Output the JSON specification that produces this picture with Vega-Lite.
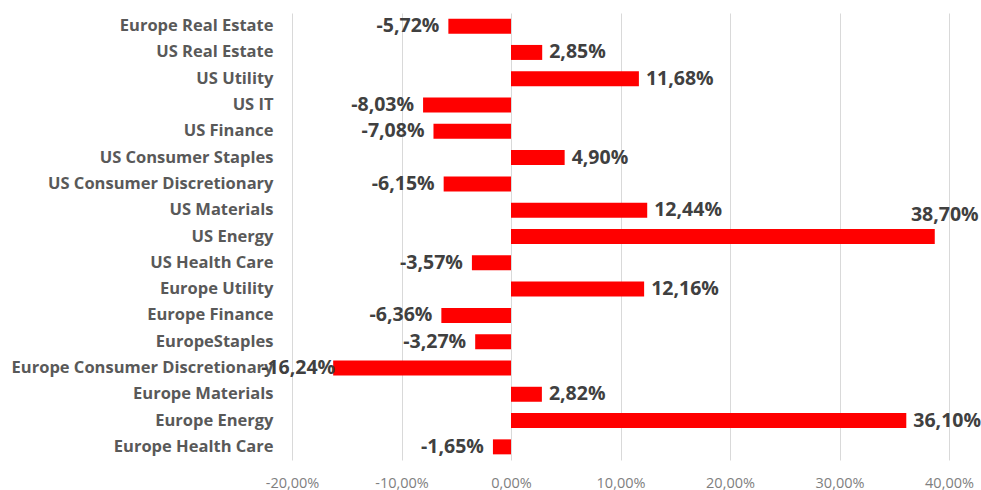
{
  "$schema": "https://vega.github.io/schema/vega-lite/v6.json",
  "width": 657,
  "height": 447,
  "autosize": {"type": "none"},
  "padding": {"left": 292, "top": 13, "right": 32, "bottom": 30},
  "background": "white",
  "config": {
    "locale": {"number": {"decimal": ",", "thousands": ".", "grouping": [3], "currency": ["", " €"], "minus": "-"}},
    "view": {"stroke": null},
    "font": "Open Sans"
  },
  "data": {"values": [
    {"sector": "Europe Real Estate", "value": -0.0572},
    {"sector": "US Real Estate", "value": 0.0285},
    {"sector": "US Utility", "value": 0.1168},
    {"sector": "US IT", "value": -0.0803},
    {"sector": "US Finance", "value": -0.0708},
    {"sector": "US Consumer Staples", "value": 0.049},
    {"sector": "US Consumer Discretionary", "value": -0.0615},
    {"sector": "US Materials", "value": 0.1244},
    {"sector": "US Energy", "value": 0.387},
    {"sector": "US Health Care", "value": -0.0357},
    {"sector": "Europe Utility", "value": 0.1216},
    {"sector": "Europe Finance", "value": -0.0636},
    {"sector": "EuropeStaples", "value": -0.0327},
    {"sector": "Europe Consumer Discretionary", "value": -0.1624},
    {"sector": "Europe Materials", "value": 0.0282},
    {"sector": "Europe Energy", "value": 0.361},
    {"sector": "Europe Health Care", "value": -0.0165}
  ]},
  "encoding": {
    "y": {
      "field": "sector", "type": "nominal", "sort": null,
      "scale": {"paddingInner": 0.43, "paddingOuter": 0.215},
      "axis": {"title": null, "ticks": false, "tickSize": 0, "domain": false, "labelPadding": 19, "labelLimit": 0,
               "labelFont": "Open Sans", "labelFontSize": 16.5, "labelFontWeight": "bold", "labelColor": "#595959"}
    }
  },
  "layer": [
    {
      "mark": {"type": "bar", "color": "#FF0000"},
      "encoding": {
        "x": {
          "field": "value", "type": "quantitative",
          "scale": {"domain": [-0.2, 0.4], "nice": false, "zero": false},
          "axis": {"title": null, "format": ".2%", "values": [-0.2, -0.1, 0, 0.1, 0.2, 0.3, 0.4],
                   "grid": true, "gridColor": "#d9d9d9", "gridWidth": 1, "domain": false, "ticks": false, "tickSize": 0,
                   "labelFlush": false, "labelPadding": 16, "labelFont": "Open Sans", "labelFontSize": 14.5, "labelColor": "#7f7f7f"}
        }
      }
    },
    {
      "transform": [{"filter": "datum.value > 0 && datum.value < 0.37"}],
      "mark": {"type": "text", "align": "left", "baseline": "middle", "dx": 7, "font": "Open Sans", "fontSize": 19.5, "fontWeight": "bold", "color": "#404040"},
      "encoding": {
        "x": {"field": "value", "type": "quantitative"},
        "text": {"field": "value", "type": "quantitative", "format": ".2%"}
      }
    },
    {
      "transform": [{"filter": "datum.value >= 0.37"}],
      "mark": {"type": "text", "align": "center", "baseline": "middle", "dx": 10, "dy": -22, "font": "Open Sans", "fontSize": 19.5, "fontWeight": "bold", "color": "#404040"},
      "encoding": {
        "x": {"field": "value", "type": "quantitative"},
        "text": {"field": "value", "type": "quantitative", "format": ".2%"}
      }
    },
    {
      "transform": [{"filter": "datum.value < 0 && datum.value > -0.15"}],
      "mark": {"type": "text", "align": "right", "baseline": "middle", "dx": -9, "font": "Open Sans", "fontSize": 19.5, "fontWeight": "bold", "color": "#404040"},
      "encoding": {
        "x": {"field": "value", "type": "quantitative"},
        "text": {"field": "value", "type": "quantitative", "format": ".2%"}
      }
    },
    {
      "transform": [{"filter": "datum.value <= -0.15"}],
      "mark": {"type": "text", "align": "right", "baseline": "middle", "dx": 2, "font": "Open Sans", "fontSize": 19.5, "fontWeight": "bold", "color": "#404040"},
      "encoding": {
        "x": {"field": "value", "type": "quantitative"},
        "text": {"field": "value", "type": "quantitative", "format": ".2%"}
      }
    }
  ]
}
